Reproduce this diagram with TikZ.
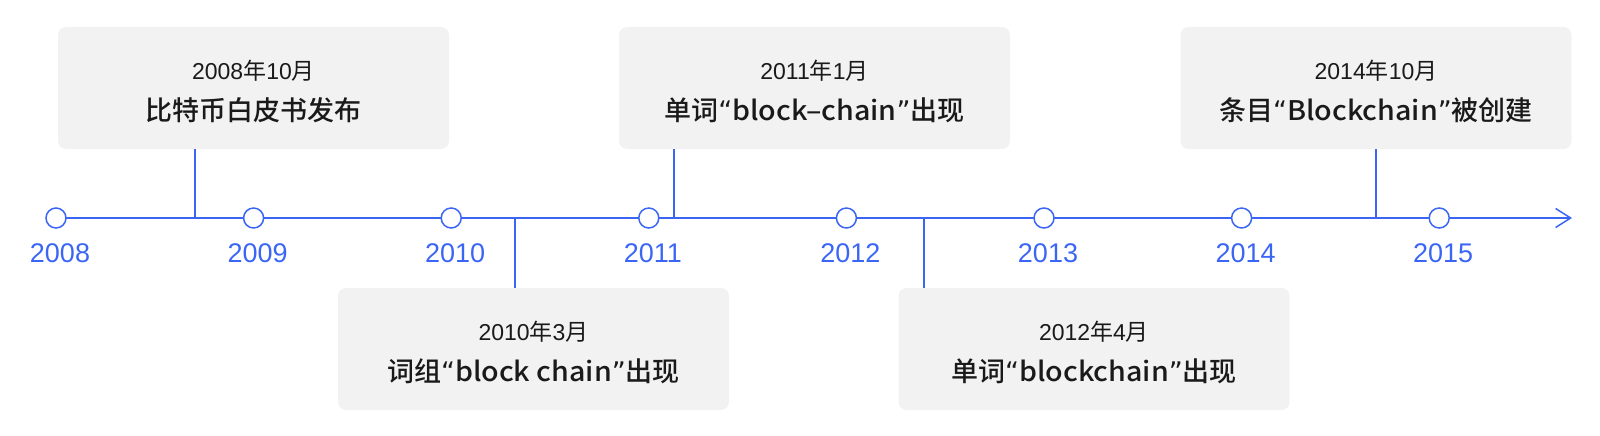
\documentclass[tikz,border=0pt]{standalone}
\usepackage{fontspec}
\setmainfont{Noto Sans CJK SC}[BoldFont={Noto Sans CJK SC Medium}]
\newfontfamily\latf{Noto Sans CJK SC Medium}[FakeStretch=1.06]
\newfontfamily\qf{DejaVu Sans}
\newfontfamily\digf{Liberation Sans}
\newcommand\lt[1]{{\latf\mdseries #1}}
\newcommand\oq{{\qf\mdseries “}}
\newcommand\cq{{\qf\mdseries ”}}
\newcommand\dg[1]{{\digf #1}}
\usetikzlibrary{arrows.meta}
\definecolor{tlblue}{HTML}{3B66F5}
\definecolor{boxgray}{HTML}{F2F2F2}
\definecolor{inkc}{HTML}{1A1A1A}
\begin{document}
\begin{tikzpicture}[x=1pt,y=-1pt,
  yearpt/.style={circle,draw=tlblue,fill=white,line width=1.5pt,minimum size=20pt,inner sep=0pt},
  yearlbl/.style={text=tlblue,font=\digf\fontsize{27}{30}\selectfont,anchor=base,inner sep=0pt},
  evbox/.style={fill=boxgray,rounded corners=8pt,minimum width=391pt,minimum height=122pt,inner sep=0pt},
  evdate/.style={font=\fontsize{23}{26}\selectfont,anchor=base,text=inkc,inner sep=0pt},
  evtext/.style={font=\fontsize{27}{32}\selectfont\bfseries,anchor=base,text=inkc,inner sep=0pt},
  link/.style={draw=tlblue,line width=1.4pt}]
\useasboundingbox (0,0) rectangle (1600,436);
% axis
\coordinate (ax0) at (56,218);
\coordinate (ax1) at (1572,218);
\draw[link,line width=1.5pt,-{Straight Barb[length=15pt,width=19pt]}] (ax0) -- (ax1);
% event boxes
\node[evbox] (b1) at (253.5,88) {};
\node[evbox] (b2) at (533.5,349) {};
\node[evbox] (b3) at (814.5,88) {};
\node[evbox] (b4) at (1094,349) {};
\node[evbox] (b5) at (1376,88) {};
% texts
\node[evdate] (d1) at (253.5,79) {\dg{2008}年\dg{10}月};
\node[evtext] (t1) at (253.5,120) {比特币白皮书发布};
\node[evdate] (d2) at (533.5,340) {\dg{2010}年\dg{3}月};
\node[evtext] (t2) at (533.5,381) {词组\oq\lt{block chain}\cq{}出现};
\node[evdate] (d3) at (814.5,79) {\dg{2011}年\dg{1}月};
\node[evtext] (t3) at (814.5,120) {单词\oq\lt{block–chain}\cq{}出现};
\node[evdate] (d4) at (1094,340) {\dg{2012}年\dg{4}月};
\node[evtext] (t4) at (1094,381) {单词\oq\lt{blockchain}\cq{}出现};
\node[evdate] (d5) at (1376,79) {\dg{2014}年\dg{10}月};
\node[evtext] (t5) at (1376,120) {条目\oq\lt{Blockchain}\cq{}被创建};
% connectors
\coordinate (k1) at (195,218);
\coordinate (k2) at (515,218);
\coordinate (k3) at (674,218);
\coordinate (k4) at (924,218);
\coordinate (k5) at (1376,218);
\draw[link] (k1) -- (k1 |- b1.south);
\draw[link] (k2) -- (k2 |- b2.north);
\draw[link] (k3) -- (k3 |- b3.south);
\draw[link] (k4) -- (k4 |- b4.north);
\draw[link] (k5) -- (k5 |- b5.south);
% year points
\foreach \yr [count=\i from 0] in {2008,2009,2010,2011,2012,2013,2014,2015} {
  \node[yearpt] (p\yr) at ({56+197.6*\i},218) {};
  \node[yearlbl] (l\yr) at ({60+197.6*\i},262) {\yr};
}
\end{tikzpicture}
\end{document}
